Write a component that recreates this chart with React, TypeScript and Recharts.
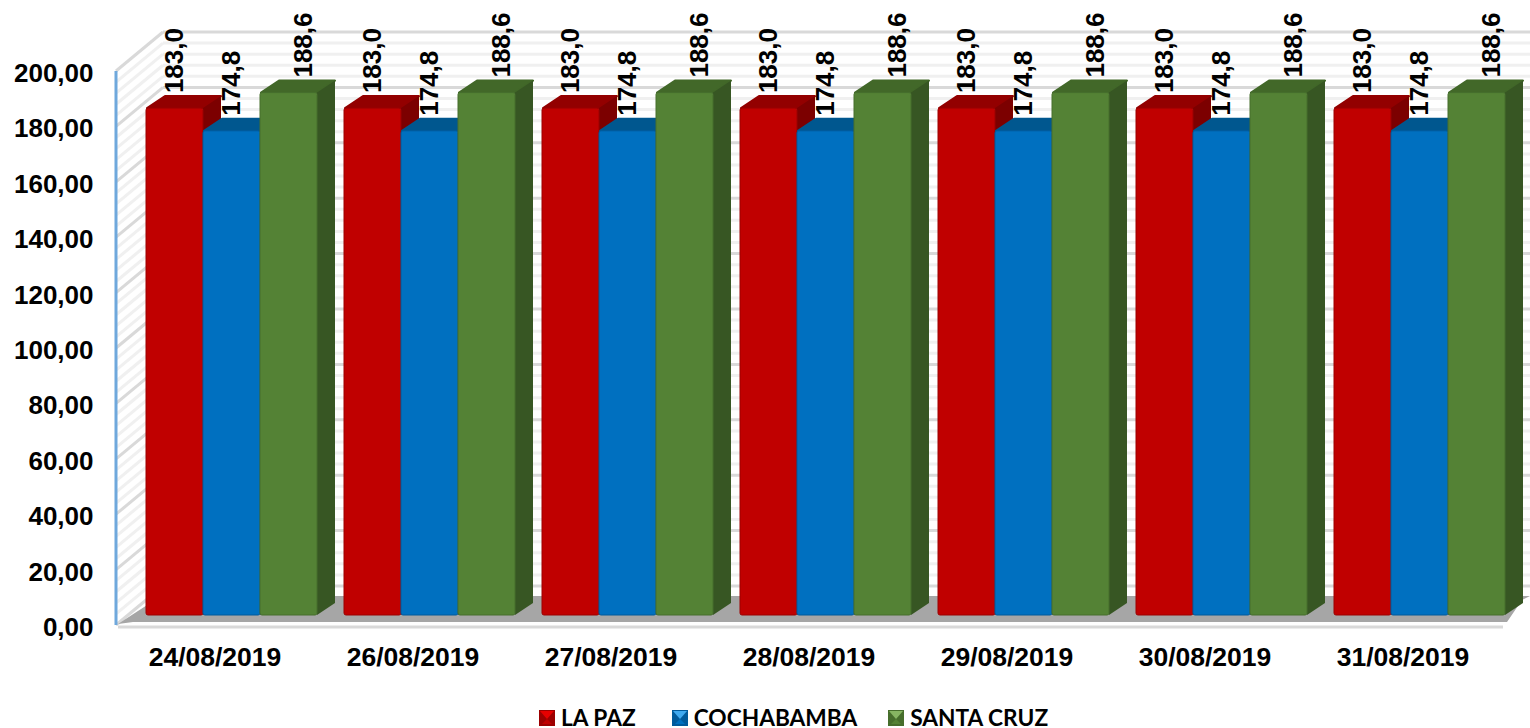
import { BarChart, Bar, XAxis, YAxis, CartesianGrid, Legend, LabelList } from 'recharts';

const fechas = ['24/08/2019', '26/08/2019', '27/08/2019', '28/08/2019', '29/08/2019', '30/08/2019', '31/08/2019'];
const laPaz = [183.0, 183.0, 183.0, 183.0, 183.0, 183.0, 183.0];
const cochabamba = [174.8, 174.8, 174.8, 174.8, 174.8, 174.8, 174.8];
const santaCruz = [188.6, 188.6, 188.6, 188.6, 188.6, 188.6, 188.6];
const yTicks = [0, 20, 40, 60, 80, 100, 120, 140, 160, 180, 200];
const gridValues = [0, 4, 8, 12, 16, 20, 24, 28, 32, 36, 40, 44, 48, 52, 56, 60, 64, 68, 72, 76, 80, 84, 88, 92, 96, 100, 104, 108, 112, 116, 120, 124, 128, 132, 136, 140, 144, 148, 152, 156, 160, 164, 168, 172, 176, 180, 184, 188, 192, 196, 200];

const data = fechas.map((fecha, i) => ({
    fecha,
    laPaz: laPaz[i],
    cochabamba: cochabamba[i],
    santaCruz: santaCruz[i],
}));

const FONT = '"Liberation Sans", Arial, sans-serif';
const DEPTH_X = 18;
const DEPTH_Y = 12;

const shades: Record<string, { top: string; side: string; edge: string; light: string }> = {
    '#c00000': { top: '#930000', side: '#7c0000', edge: '#9c0000', light: '#e60000' },
    '#0070c0': { top: '#00578f', side: '#004a7c', edge: '#005a9c', light: '#3fa9f0' },
    '#548235': { top: '#426829', side: '#375623', edge: '#466e2c', light: '#86b562' },
};

// caja 3D: frente + tapa + lateral
function Box3D(props: any) {
    const { x, y, width, height, fill } = props;
    const s = shades[fill];
    const r = x + width;
    const b = y + height;
    return (
        <g>
            <polygon points={`${x + 1},${y} ${r},${y} ${r + DEPTH_X},${y - DEPTH_Y} ${x + DEPTH_X + 1},${y - DEPTH_Y}`} fill={s.top} stroke={s.top} strokeLinejoin="round" strokeWidth={2} />
            <polygon points={`${r},${y} ${r + DEPTH_X},${y - DEPTH_Y} ${r + DEPTH_X},${b - DEPTH_Y} ${r},${b}`} fill={s.side} />
            <rect x={x} y={y} width={width} height={height} rx={2} fill={fill} stroke={s.edge} strokeWidth={1} />
        </g>
    );
}

// lineas de la pared trasera y la lateral, mas el piso gris
function WallLine(props: any) {
    const { x1, x2, y1, index } = props;
    const major = index % 5 === 0;
    const stroke = major ? '#d9d9d9' : '#f0f0f0';
    const backY = y1 - 29;
    const frontY = y1 + 10;
    return (
        <g key={index}>
            <line x1={x1 + 30} x2={x2 + 11} y1={backY} y2={backY} stroke={stroke} strokeWidth={3} />
            <line x1={x1 - 17} x2={x1 + 30} y1={frontY} y2={backY} stroke={stroke} strokeWidth={3} />
            {index === 0 && (
                <g>
                    <polygon points={`${x1 - 15},${frontY - 1} ${x1 + 28},596 ${x2 + 11},596 ${x2 + 3},600 ${x2 - 12},${frontY - 3} ${x1},${frontY - 3}`} fill="#a6a6a6" />
                    <line x1={x1 - 15} x2={x2 - 16} y1={frontY + 2} y2={frontY + 2} stroke="#d9d9d9" strokeWidth={3} />
                </g>
            )}
            {index === gridValues.length - 1 && (
                <line x1={x1 - 17} x2={x1 - 17} y1={frontY} y2={frontY + 554} stroke="#6fa8dc" strokeWidth={3} />
            )}
        </g>
    );
}

function YTick(props: any) {
    const { x, y, payload } = props;
    return (
        <text x={x - 39.5} y={y + 12} textAnchor="end" dominantBaseline="central" fontFamily={FONT} fontWeight={700} fontSize={26} fill="#000">
            {payload.value.toFixed(2).replace('.', ',')}
        </text>
    );
}

function XTick(props: any) {
    const { x, y, payload } = props;
    return (
        <text x={x - 17} y={y + 34} textAnchor="middle" dominantBaseline="central" fontFamily={FONT} fontWeight={700} fontSize={26.5} fill="#000">
            {payload.value}
        </text>
    );
}

function rotatedLabel(shift: number) {
    return (props: any) => {
        const { x, y, width, value } = props;
        const cx = x + width / 2 + shift;
        const cy = y - 15;
        return (
            <text x={cx} y={cy} transform={`rotate(-90 ${cx} ${cy})`} textAnchor="start" dominantBaseline="central" fontFamily={FONT} fontWeight={700} fontSize={26} fill="#000">
                {value.toFixed(1).replace('.', ',')}
            </text>
        );
    };
}

function LegendMarker({ color }: { color: string }) {
    const s = shades[color];
    return (
        <svg width={16} height={16} style={{ display: 'block' }}>
            <rect width={16} height={16} fill={s.edge} />
            <polygon points="1,1 15,1 8,9" fill={s.light} />
            <polygon points="3,14 13,14 8,9" fill={color} />
        </svg>
    );
}

function LegendBox({ payload }: any) {
    const gaps = [36, 31, 0];
    return (
        <div style={{ display: 'flex', alignItems: 'center', justifyContent: 'flex-start', paddingLeft: 539 }}>
            {(payload || []).map((item: any, i: number) => (
                <div key={item.value} style={{ display: 'flex', alignItems: 'center', gap: 6, marginRight: gaps[i] }}>
                    <LegendMarker color={item.color} />
                    <span style={{ fontFamily: 'Lato, sans-serif', fontWeight: 700, fontSize: 22.7, color: '#000', lineHeight: '20px' }}>{item.value}</span>
                </div>
            ))}
        </div>
    );
}

export default function App() {
    return (
        <div style={{ position: 'absolute', left: 0, top: 0, width: 1530, height: 728, overflow: 'hidden' }}>
            <BarChart
                width={1530}
                height={728}
                data={data}
                margin={{ top: 61, right: 11, bottom: 43, left: 40 }}
                barCategoryGap={13}
                barGap={0}
            >
                <CartesianGrid vertical={false} horizontalValues={gridValues} horizontal={WallLine as any} />
                <XAxis dataKey="fecha" axisLine={false} tickLine={false} interval={0} tick={<XTick />} height={50} />
                <YAxis domain={[0, 200]} ticks={yTicks} axisLine={false} tickLine={false} interval={0} tick={<YTick />} width={93} tickMargin={0} tickSize={0} />
                <Legend content={<LegendBox />} itemSorter={null} wrapperStyle={{ position: 'absolute', left: 0, top: 708, width: 1530, height: 20 }} />
                <Bar dataKey="laPaz" name="LA PAZ" fill="#c00000" shape={<Box3D />} isAnimationActive={false}>
                    <LabelList dataKey="laPaz" content={rotatedLabel(0)} />
                </Bar>
                <Bar dataKey="cochabamba" name="COCHABAMBA" fill="#0070c0" shape={<Box3D />} isAnimationActive={false}>
                    <LabelList dataKey="cochabamba" content={rotatedLabel(0)} />
                </Bar>
                <Bar dataKey="santaCruz" name="SANTA CRUZ" fill="#548235" shape={<Box3D />} isAnimationActive={false}>
                    <LabelList dataKey="santaCruz" content={rotatedLabel(15)} />
                </Bar>
            </BarChart>
        </div>
    );
}
